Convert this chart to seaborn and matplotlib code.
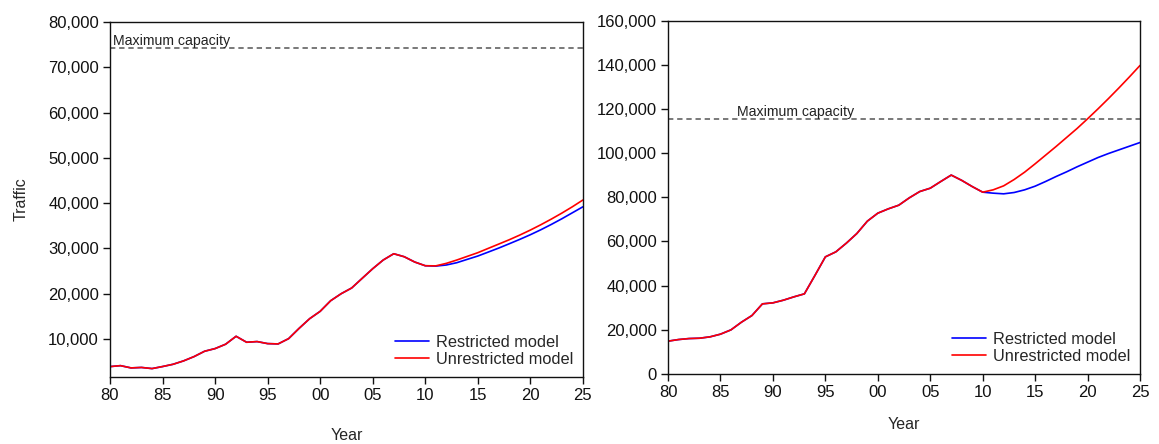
import numpy as np
import pandas as pd
import matplotlib
matplotlib.use('Agg')
import matplotlib.pyplot as plt
import matplotlib.ticker as mticker
import seaborn as sns

# years
hist_years = list(range(1980, 2011))
fc_years = list(range(2011, 2026))

# left panel: observed traffic 1980-2010 and forecasts 2011-2025
left_hist = [3890, 4100, 3600, 3700, 3450, 3900, 4400, 5150, 6100, 7280,
             7870, 8830, 10590, 9270, 9420, 8970, 8900, 10070, 12350, 14480,
             16100, 18450, 20000, 21260, 23400, 25520, 27440, 28830, 28170, 27000,
             26180]
left_restricted = [26100, 26340, 26850, 27590, 28320, 29200, 30090, 31040, 32010, 33030,
                   34130, 35310, 36560, 37880, 39200]
left_unrestricted = [26150, 26700, 27440, 28250, 29060, 30020, 30970, 31930, 32960, 34060,
                     35240, 36490, 37810, 39210, 40700]
left_capacity = 74300

# right panel
right_hist = [14820, 15550, 16000, 16150, 16770, 17990, 19940, 23420, 26440, 31730,
              32180, 33390, 34900, 36260, 44560, 53030, 55300, 59240, 63600, 69200,
              72830, 74790, 76450, 79770, 82640, 84150, 87170, 90100, 87700, 84900,
              82350]
right_restricted = [81900, 81600, 82200, 83410, 85070, 87190, 89450, 91570, 93840, 95950,
                    98060, 99880, 101540, 103200, 104860]
right_unrestricted = [83410, 85220, 88090, 91420, 95200, 99130, 103060, 107140, 111220, 115600,
                      120130, 124810, 129650, 134640, 139780]
right_capacity = 115400

models = ['Restricted model', 'Unrestricted model']


def build_frame(hist, restricted, unrestricted):
    rows = []
    for name, fc in zip(models, [restricted, unrestricted]):
        for yr, v in zip(hist_years + fc_years, hist + fc):
            rows.append([yr, v, name])
    return pd.DataFrame(rows, columns=['year', 'traffic', 'model'])


sns.set_theme(style='ticks')
plt.rcParams['font.family'] = ['Liberation Sans', 'DejaVu Sans']

fig = plt.figure(figsize=(11.59, 4.44), dpi=100)
ax1 = fig.add_axes([0.0949, 0.151, 0.408, 0.799])
ax2 = fig.add_axes([0.5764, 0.158, 0.4072, 0.795])

palette = {'Restricted model': '#0000ff', 'Unrestricted model': '#ff0000'}

panels = [
    (ax1, build_frame(left_hist, left_restricted, left_unrestricted), left_capacity,
     (1600, 80000), 10000, 1980.3, 18),
    (ax2, build_frame(right_hist, right_restricted, right_unrestricted), right_capacity,
     (0, 160000), 20000, 1986.6, 12),
]

for ax, df, cap, ylim, step, txt_x, xpad in panels:
    sns.lineplot(data=df, x='year', y='traffic', hue='model', palette=palette,
                 linewidth=1.2, ax=ax)
    ax.axhline(cap, color='#555555', linestyle=(0, (3.5, 2.5)), linewidth=1.1)
    ax.text(txt_x, cap, 'Maximum capacity', fontsize=10.2, color='#222222',
            ha='left', va='bottom')
    ax.set_xlim(1980, 2025)
    ax.set_ylim(*ylim)
    ax.set_xticks(range(1980, 2026, 5))
    ax.xaxis.set_major_formatter(mticker.FuncFormatter(lambda v, p: f'{int(v) % 100:02d}'))
    ax.set_yticks(np.arange(0 if ylim[0] == 0 else step, ylim[1] + 1, step))
    ax.yaxis.set_major_formatter(mticker.FuncFormatter(lambda v, p: f'{v:,.0f}'))
    ax.tick_params(axis='both', direction='out', length=5, width=1, labelsize=12,
                   colors='#111111', pad=3)
    for s in ax.spines.values():
        s.set_visible(True)
        s.set_color('#111111')
        s.set_linewidth(1)
    ax.legend(frameon=False, loc='lower right', fontsize=11.8, handlelength=2.1,
              handletextpad=0.4, labelspacing=0.15, borderaxespad=0.2)
    ax.set_xlabel('Year', fontsize=11.5, labelpad=xpad)
    ax.set_ylabel('')

ax1.set_ylabel('Traffic', fontsize=11.5, labelpad=14)

fig.savefig('out.png', dpi=100, facecolor='white')
